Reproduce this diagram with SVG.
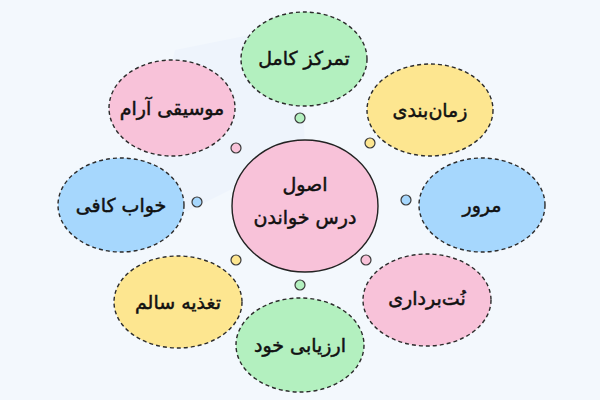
<svg xmlns="http://www.w3.org/2000/svg" width="600" height="400" viewBox="0 0 600 400">
<style>
.sat{stroke:#2b2b2b;stroke-width:1.4;stroke-dasharray:4 3}
.dot{stroke:#3a3a3a;stroke-width:1.2}
.g{fill:#b3f0bf}.y{fill:#fde690}.b{fill:#a6d7fd}.p{fill:#f8c2d9}
text{font-family:"DejaVu Sans","Noto Sans",sans-serif;font-size:19px;fill:#111;stroke:#111;stroke-width:0.5;text-anchor:middle;dominant-baseline:central}
</style>
<rect width="600" height="400" fill="#f3f8fd"/>
<g fill="#eef4fc">
<path d="M130 240 L175 50 L300 25 L305 150 L230 190 Z"/>
</g>
<g id="connectors">
<circle class="dot g" cx="300" cy="118" r="5"/>
<circle class="dot y" cx="370" cy="143" r="5"/>
<circle class="dot b" cx="406" cy="200" r="5"/>
<circle class="dot p" cx="366" cy="260" r="5"/>
<circle class="dot g" cx="300" cy="285" r="5"/>
<circle class="dot y" cx="236" cy="260" r="5"/>
<circle class="dot b" cx="197" cy="202" r="5"/>
<circle class="dot p" cx="236" cy="148" r="5"/>
</g>
<g id="center">
<ellipse cx="305" cy="206" rx="73" ry="66" fill="#f8c2d9" stroke="#222" stroke-width="1.4"/>
<text x="305" y="184" font-size="23">اصول</text>
<text x="305" y="217" font-size="23">درس خواندن</text>
</g>
<g id="n-focus"><ellipse class="sat g" cx="304" cy="59" rx="63" ry="47"/><text x="304" y="58">تمرکز کامل</text></g>
<g id="n-time"><ellipse class="sat y" cx="430" cy="110" rx="63" ry="46"/><text x="430" y="110">زمان‌بندی</text></g>
<g id="n-review"><ellipse class="sat b" cx="482" cy="205" rx="63" ry="47"/><text x="482" y="205">مرور</text></g>
<g id="n-notes"><ellipse class="sat p" cx="427" cy="300" rx="64" ry="46"/><text x="427" y="298">نُت‌برداری</text></g>
<g id="n-self"><ellipse class="sat g" cx="300" cy="345" rx="64" ry="47"/><text x="300" y="345">ارزیابی خود</text></g>
<g id="n-food"><ellipse class="sat y" cx="178" cy="302" rx="64" ry="46"/><text x="178" y="302">تغذیه سالم</text></g>
<g id="n-sleep"><ellipse class="sat b" cx="121" cy="205" rx="63" ry="47"/><text x="121" y="205">خواب کافی</text></g>
<g id="n-music"><ellipse class="sat p" cx="172" cy="108" rx="63" ry="48"/><text x="172" y="108">موسیقی آرام</text></g>
</svg>
